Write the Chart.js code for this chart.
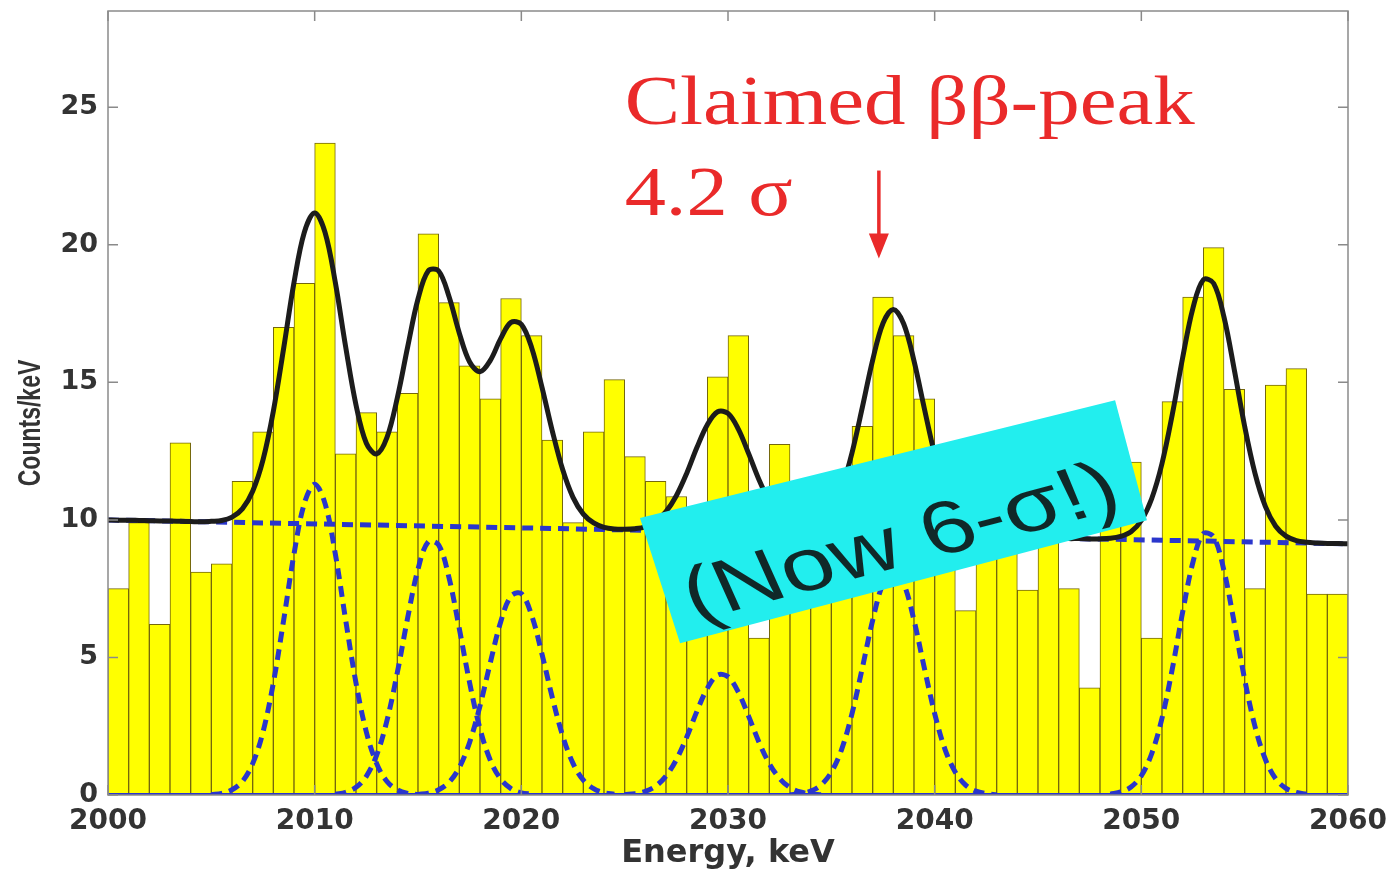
<!DOCTYPE html>
<html><head><meta charset="utf-8">
<script src="https://cdn.jsdelivr.net/npm/chart.js@4.4.0/dist/chart.umd.min.js"></script>
<style>html,body{margin:0;background:#fff}canvas{display:block}</style>
</head><body>
<canvas id="c" width="1393" height="870"></canvas>
<script>
// spectrum, 1 keV bins from 2000 keV
const BIN_START=2000, BIN_W=1;
const counts=[7.5,9.9,6.2,12.8,8.1,8.4,11.4,13.2,17.0,18.6,
  23.7,12.4,13.9,13.2,14.6,20.4,17.9,15.6,14.4,18.05,
  16.7,12.9,9.9,13.2,15.1,12.3,11.4,10.85,9.0,15.2,
  16.7,5.7,12.75,10.0,9.5,10.5,13.4,18.1,16.7,14.4,
  10.5,6.7,10.0,11.0,7.45,10.5,7.5,3.9,11.0,12.1,
  5.7,14.3,18.1,19.9,14.75,7.5,14.9,15.5,7.3,7.3];

// total fit (black), read every 0.5 keV
const FIT_STEP=0.5;
const fitStart=2000;
const fitTotal=[10.00,9.99,9.99,9.98,9.97,9.96,9.96,9.95,9.94,9.93,
  9.95,9.98,10.10,10.40,11.04,12.18,13.95,16.24,18.63,20.46,
  21.16,20.46,18.63,16.29,14.18,12.79,12.40,13.00,14.44,16.29,
  18.03,19.06,19.05,18.12,16.79,15.74,15.39,15.80,16.59,17.18,
  17.11,16.26,14.82,13.23,11.83,10.82,10.21,9.89,9.73,9.67,
  9.66,9.68,9.75,9.94,10.30,10.88,11.69,12.64,13.46,13.93,
  13.87,13.30,12.41,11.46,10.68,10.13,9.80,9.67,9.69,9.88,
  10.32,11.14,12.44,14.09,15.81,17.15,17.65,17.13,15.78,14.05,
  12.38,11.07,10.24,9.76,9.53,9.43,9.39,9.37,9.36,9.35,
  9.35,9.34,9.33,9.32,9.32,9.31,9.31,9.33,9.40,9.57,
  9.98,10.77,12.05,13.84,15.90,17.71,18.73,18.60,17.37,15.45,
  13.40,11.69,10.49,9.77,9.41,9.25,9.19,9.16,9.14,9.14,
  9.13];

// single peak components (blue dashed), each from its own start energy
const peakStarts=[2005,2011,2015,2025,2033,2048.5];
const peakA=[0.02,0.06,0.19,0.49,1.14,2.29,4.07,6.36,8.76,10.60,11.30,10.60,8.76,6.36,4.07,2.29,1.14,0.49,0.19,0.06,0.02];
const peakB=[0.03,0.10,0.28,0.68,1.45,2.71,4.45,6.44,8.21,9.21,9.09,7.90,6.04,4.07,2.41,1.26,0.58,0.23,0.08,0.03];
const peakC=[0.02,0.07,0.19,0.46,1.00,1.92,3.24,4.81,6.29,7.23,7.32,6.53,5.12,3.54,2.15,1.15,0.54,0.23,0.08,0.03];
const peakD=[0.02,0.05,0.13,0.32,0.69,1.28,2.10,3.05,3.88,4.36,4.30,3.74,2.86,1.92,1.14,0.60,0.27,0.11,0.04,0.01];
const peakE=[0.01,0.05,0.14,0.36,0.83,1.66,2.96,4.62,6.35,7.69,8.20,7.69,6.35,4.62,2.96,1.66,0.83,0.36,0.14,0.05,0.01];
const peakF=[0.03,0.11,0.29,0.70,1.50,2.79,4.59,6.65,8.47,9.50,9.38,8.15,6.24,4.20,2.49,1.30,0.59,0.24,0.09,0.03];

// linear background
const bgEnergy=[2000,2060];
const bgLevel=[10.0,9.13];

const yTitle='Counts/keV';
const noteLines=['Claimed ββ-peak','4.2 σ'];
const boxText='(Now 6-σ!)';

const BLUE='#2a36cc';
const pts=(start,vals)=>vals.map((v,i)=>({x:start+i*FIT_STEP,y:v}));
const dashed=(data)=>({type:'line',data,borderColor:BLUE,borderWidth:5,borderDash:[11,7],
  pointRadius:0,tension:0.35,fill:false,order:2});

const notes={
  id:'notes',
  afterDatasetsDraw(chart){
    const {ctx,chartArea:a,scales:{x,y}}=chart;
    ctx.save();
    // matlab style box with inward ticks
    ctx.strokeStyle='#8a8a8a';ctx.lineWidth=1.5;
    ctx.strokeRect(a.left,a.top,a.right-a.left,a.bottom-a.top);
    ctx.beginPath();
    y.ticks.forEach(t=>{const py=y.getPixelForValue(t.value);
      ctx.moveTo(a.left,py);ctx.lineTo(a.left+10,py);ctx.moveTo(a.right,py);ctx.lineTo(a.right-10,py);});
    x.ticks.forEach(t=>{const px=x.getPixelForValue(t.value);
      ctx.moveTo(px,a.top);ctx.lineTo(px,a.top+10);ctx.moveTo(px,a.bottom);ctx.lineTo(px,a.bottom-10);});
    ctx.stroke();

    // y title, slide is stretched sideways so the glyphs are too
    ctx.save();ctx.translate(31,(a.top+a.bottom)/2+20);ctx.rotate(-Math.PI/2);ctx.scale(1,1.4);
    ctx.fillStyle='#333';ctx.font='bold 23px "Liberation Sans"';ctx.textAlign='center';ctx.textBaseline='middle';
    ctx.fillText(yTitle,0,0);ctx.restore();

    // red note + arrow
    ctx.fillStyle='#ea2a2a';ctx.strokeStyle='#ea2a2a';
    ctx.font='70px "Liberation Serif"';ctx.textBaseline='alphabetic';
    const nx=x.getPixelForValue(2025.0);
    [[noteLines[0],24.4,570],[noteLines[1],21.1,168]].forEach(([s,v,w])=>{
      const m=ctx.measureText(s).width;
      ctx.save();ctx.translate(nx,y.getPixelForValue(v));ctx.scale(w/m,1);ctx.fillText(s,0,0);ctx.restore();
    });
    const ax=x.getPixelForValue(2037.3),ay0=y.getPixelForValue(22.7),ay1=y.getPixelForValue(19.5);
    ctx.lineWidth=3.5;ctx.beginPath();ctx.moveTo(ax,ay0);ctx.lineTo(ax,ay1-20);ctx.stroke();
    ctx.beginPath();ctx.moveTo(ax-10,ay1-25);ctx.lineTo(ax+10,ay1-25);ctx.lineTo(ax,ay1);ctx.closePath();ctx.fill();

    // cyan label
    const bx=[2025.74,2048.73,2050.27,2027.68],by=[10.07,14.35,9.99,5.52];
    ctx.fillStyle='#22eeee';ctx.beginPath();
    bx.forEach((e,i)=>{const px=x.getPixelForValue(e),py=y.getPixelForValue(by[i]);i?ctx.lineTo(px,py):ctx.moveTo(px,py);});
    ctx.closePath();ctx.fill();
    const cx=x.getPixelForValue(2038.4),cy=y.getPixelForValue(9.1);
    ctx.save();ctx.translate(cx,cy);ctx.scale(1.3,1);ctx.rotate(-19*Math.PI/180);
    ctx.fillStyle='#102828';ctx.font='74px "Liberation Sans"';ctx.textAlign='center';ctx.textBaseline='middle';
    ctx.fillText(boxText,0,0);ctx.restore();
    ctx.restore();
  }
};

const tickFont={family:'"DejaVu Sans"',weight:'bold',size:28};
new Chart(document.getElementById('c'),{
  type:'bar',
  data:{datasets:[
    {type:'line',data:pts(fitStart,fitTotal),borderColor:'#1c1c1c',borderWidth:5,pointRadius:0,tension:0.35,fill:false,order:0},
    dashed(pts(peakStarts[0],peakA)),dashed(pts(peakStarts[1],peakB)),dashed(pts(peakStarts[2],peakC)),
    dashed(pts(peakStarts[3],peakD)),dashed(pts(peakStarts[4],peakE)),dashed(pts(peakStarts[5],peakF)),
    dashed(bgEnergy.map((e,i)=>({x:e,y:bgLevel[i]}))),
    {type:'line',data:[{x:2000,y:0},{x:2060,y:0}],borderColor:BLUE,borderWidth:4,pointRadius:0,order:1},
    {type:'bar',data:counts.map((v,i)=>({x:BIN_START+i*BIN_W+BIN_W/2,y:v})),
      backgroundColor:'#ffff00',borderColor:'#75680c',borderWidth:1,barPercentage:1,categoryPercentage:1,order:5}
  ]},
  options:{
    responsive:false,devicePixelRatio:1,animation:false,
    layout:{padding:{top:11,right:45,left:0,bottom:0}},
    plugins:{legend:{display:false},tooltip:{enabled:false}},
    scales:{
      x:{type:'linear',min:2000,max:2060,offset:false,
        grid:{display:false,drawTicks:false},border:{display:false},
        ticks:{stepSize:10,padding:10,color:'#333',font:tickFont,maxRotation:0,callback:v=>String(v)},
        title:{display:true,text:'Energy, keV',color:'#333',font:{family:'"DejaVu Sans"',weight:'bold',size:32,lineHeight:1},padding:{top:0,bottom:0}},
        afterFit:s=>{s.height=75;s.paddingLeft=0;s.paddingRight=0;}},
      y:{min:0,max:28.5,
        grid:{display:false,drawTicks:false},border:{display:false},
        ticks:{stepSize:5,includeBounds:false,padding:10,color:'#333',font:{family:'"DejaVu Sans"',weight:'bold',size:27}},
        afterFit:s=>{s.width=108;s.paddingTop=0;s.paddingBottom=0;}}
    }
  },
  plugins:[notes]
});
</script>
</body></html>
